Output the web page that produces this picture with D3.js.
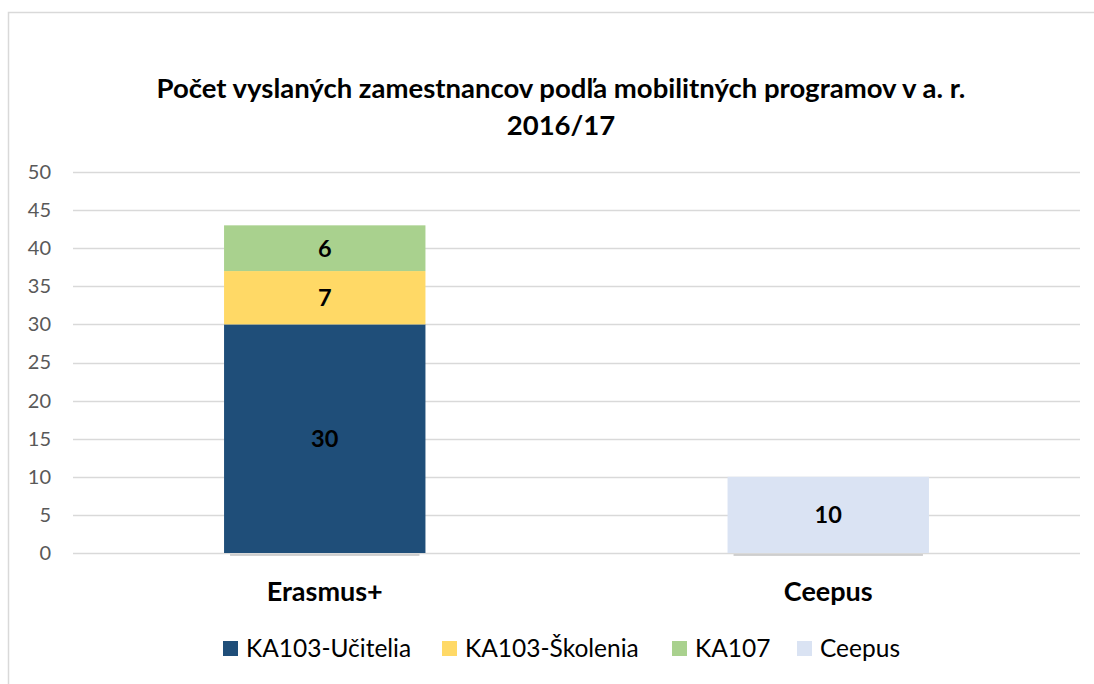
<!DOCTYPE html>
<html>
<head>
<meta charset="utf-8">
<script src="https://cdn.jsdelivr.net/npm/d3@7"></script>
<style>
  html, body { margin: 0; padding: 0; background: #fff; }
  #chart { width: 1094px; height: 684px; }
  svg text { font-family: Lato, "Open Sans", sans-serif; }
</style>
</head>
<body>
<div id="chart"></div>
<script>
// chart data
const categories = ["Erasmus+", "Ceepus"];
const seriesNames = ["KA103-Učitelia", "KA103-Školenia", "KA107", "Ceepus"];
const seriesColors = ["#1F4E79", "#FFD966", "#A9D18E", "#DAE3F3"];
const ka103Ucitelia = [30, 0];
const ka103Skolenia = [7, 0];
const ka107 = [6, 0];
const ceepus = [0, 10];
const yTicks = [0, 5, 10, 15, 20, 25, 30, 35, 40, 45, 50];
const titleLines = ["Počet vyslaných zamestnancov podľa mobilitných programov v a. r.", "2016/17"];

const width = 1094, height = 684;
const margin = {left: 73, right: 14, top: 172, bottom: 131};

const svg = d3.select("#chart").append("svg")
  .attr("width", width)
  .attr("height", height);

// outer chart frame (runs off right/bottom edge)
svg.append("rect")
  .attr("x", 8.5).attr("y", 12.5)
  .attr("width", width).attr("height", height)
  .attr("fill", "none")
  .attr("stroke", "#d9d9d9")
  .attr("stroke-width", 1.5);

// title
svg.append("text")
  .attr("text-anchor", "middle")
  .attr("font-weight", "bold")
  .attr("font-size", 27.5)
  .attr("fill", "#000")
  .selectAll("tspan")
  .data(titleLines)
  .enter().append("tspan")
    .attr("x", 561)
    .attr("y", (d, i) => 98 + i * 37)
    .text(d => d);

const x = d3.scaleBand()
  .domain(categories)
  .range([margin.left, width - margin.right])
  .paddingInner(0.6)
  .paddingOuter(0.3);

const y = d3.scaleLinear()
  .domain([0, 50])
  .range([height - margin.bottom, margin.top]);

// gridlines
svg.append("g")
  .selectAll("line")
  .data(yTicks)
  .enter().append("line")
    .attr("x1", margin.left)
    .attr("x2", width - margin.right)
    .attr("y1", d => Math.round(y(d)) + 0.5)
    .attr("y2", d => Math.round(y(d)) + 0.5)
    .attr("stroke", "#d9d9d9")
    .attr("stroke-width", 1.5);

// y axis labels
const yAxis = d3.axisLeft(y).tickValues(yTicks).tickSize(0).tickPadding(0);
const yg = svg.append("g")
  .attr("transform", `translate(${margin.left - 22},0)`)
  .call(yAxis);
yg.select(".domain").remove();
yg.selectAll("text")
  .attr("font-size", 20)
  .attr("fill", "#595959")
  .attr("font-family", "Lato, 'Open Sans', sans-serif");

// stacking
const table = categories.map((c, i) => ({
  cat: c,
  s0: ka103Ucitelia[i],
  s1: ka103Skolenia[i],
  s2: ka107[i],
  s3: ceepus[i]
}));
const keys = ["s0", "s1", "s2", "s3"];
const stacked = d3.stack().keys(keys)(table);

const layers = svg.selectAll("g.layer")
  .data(stacked)
  .enter().append("g")
    .attr("class", "layer")
    .attr("fill", (d, i) => seriesColors[i]);

layers.selectAll("rect")
  .data(d => d.filter(p => p[1] - p[0] > 0))
  .enter().append("rect")
    .attr("x", d => x(d.data.cat))
    .attr("width", x.bandwidth())
    .attr("y", d => y(d[1]))
    .attr("height", d => y(d[0]) - y(d[1]));

// data labels
layers.selectAll("text")
  .data(d => d.filter(p => p[1] - p[0] > 0))
  .enter().append("text")
    .attr("x", d => x(d.data.cat) + x.bandwidth() / 2)
    .attr("y", d => (y(d[0]) + y(d[1])) / 2)
    .attr("dy", "0.36em")
    .attr("text-anchor", "middle")
    .attr("font-weight", "bold")
    .attr("font-size", 23.5)
    .attr("fill", "#000")
    .text(d => d[1] - d[0]);

// small dark baseline under each bar
svg.append("g")
  .selectAll("line")
  .data(categories)
  .enter().append("line")
    .attr("x1", d => x(d) + 6)
    .attr("x2", d => x(d) + x.bandwidth() - 6)
    .attr("y1", y(0) + 2)
    .attr("y2", y(0) + 2)
    .attr("stroke", "#a6a6a6")
    .attr("stroke-width", 1.2);

// category labels
svg.append("g")
  .selectAll("text")
  .data(categories)
  .enter().append("text")
    .attr("x", d => x(d) + x.bandwidth() / 2)
    .attr("y", 601)
    .attr("text-anchor", "middle")
    .attr("font-weight", "bold")
    .attr("font-size", 27)
    .attr("fill", "#000")
    .text(d => d);

// legend
const legendX = [223, 442, 672, 797];
const legend = svg.append("g")
  .selectAll("g")
  .data(seriesNames)
  .enter().append("g")
    .attr("transform", (d, i) => `translate(${legendX[i]},641)`);
legend.append("rect")
  .attr("width", 15).attr("height", 15)
  .attr("fill", (d, i) => seriesColors[i]);
legend.append("text")
  .attr("x", 23)
  .attr("y", 16)
  .attr("font-size", 24.5)
  .attr("fill", "#000")
  .text(d => d);
</script>
</body>
</html>
